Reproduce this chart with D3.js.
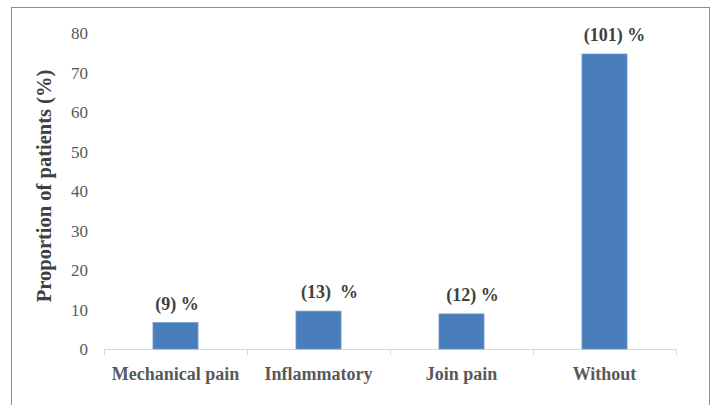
<!DOCTYPE html>
<head>
  <meta charset="utf-8">
  <title>Pain type</title>
  <style>
    body { margin: 0; background: #fff; }
    text { font-family: "Liberation Serif", "Times New Roman", serif; }
  </style>
</head>
<body>
  <div id="chart"></div>
  <script src="https://cdnjs.cloudflare.com/ajax/libs/d3/7.8.5/d3.min.js"></script>
  <script>
    var categories = ["Mechanical pain", "Inflammatory", "Join pain", "Without"];
    var values = [6.7, 9.6, 8.9, 74.8];
    var barLabels = ["(9) %", "(13)\u00a0 %", "(12) %", "(101) %"];
    var yTicks = [0, 10, 20, 30, 40, 50, 60, 70, 80];

    var width = 715, height = 405;
    var margin = { left: 104, right: 39, top: 33.5, bottom: 56 };
    // the labels sit a little right of the bar centres in the original
    var labelNudge = [1.5, 11, 11, 10];

    var svg = d3.select("#chart").append("svg")
      .attr("width", width)
      .attr("height", height);

    // outer frame (bottom edge runs off the picture)
    svg.append("rect")
      .attr("x", 11.5).attr("y", 7.5)
      .attr("width", 698).attr("height", 420)
      .attr("fill", "none")
      .attr("stroke", "#8c8c8c")
      .attr("stroke-width", 1);

    var x = d3.scaleBand()
      .domain(categories)
      .range([margin.left, width - margin.right])
      .paddingInner(0.685)
      .paddingOuter(0.3425);

    var y = d3.scaleLinear()
      .domain([0, 80])
      .range([height - margin.bottom, margin.top]);

    // y tick labels
    var yAxis = svg.append("g")
      .attr("transform", "translate(" + margin.left + ",0)")
      .call(d3.axisLeft(y).tickValues(yTicks).tickSize(0).tickPadding(16));
    yAxis.select(".domain").remove();
    yAxis.selectAll("text")
      .attr("fill", "#595959")
      .style("font-size", "17px")
      .style("font-family", "Liberation Serif, serif");

    // x axis with boundary ticks
    var baseY = y(0);
    svg.append("line")
      .attr("x1", margin.left).attr("x2", width - margin.right)
      .attr("y1", baseY + 0.5).attr("y2", baseY + 0.5)
      .attr("stroke", "#d9d9d9");

    var step = x.step();
    var bounds = categories.map(function(c) { return x(c) - x.paddingOuter() * step; });
    bounds.push(width - margin.right);
    svg.selectAll(".xtick")
      .data(bounds)
      .enter().append("line")
      .attr("class", "xtick")
      .attr("x1", function(d) { return Math.round(d) + 0.5; })
      .attr("x2", function(d) { return Math.round(d) + 0.5; })
      .attr("y1", baseY).attr("y2", baseY + 6)
      .attr("stroke", "#d9d9d9");

    svg.selectAll(".xlabel")
      .data(categories)
      .enter().append("text")
      .attr("class", "xlabel")
      .attr("x", function(d) { return x(d) + x.bandwidth() / 2; })
      .attr("y", 380)
      .attr("text-anchor", "middle")
      .attr("fill", "#595959")
      .style("font-size", "18px")
      .style("font-weight", "bold")
      .text(function(d) { return d; });

    // bars
    svg.selectAll(".bar")
      .data(values)
      .enter().append("rect")
      .attr("class", "bar")
      .attr("x", function(d, i) { return x(categories[i]); })
      .attr("y", function(d) { return y(d); })
      .attr("width", x.bandwidth())
      .attr("height", function(d) { return y(0) - y(d); })
      .attr("fill", "#4a7ebb")
      .attr("stroke", "#6f9bd1")
      .attr("stroke-width", 0.8);

    // value labels
    svg.selectAll(".vlabel")
      .data(values)
      .enter().append("text")
      .attr("class", "vlabel")
      .attr("x", function(d, i) { return x(categories[i]) + x.bandwidth() / 2 + labelNudge[i]; })
      .attr("y", function(d) { return y(d) - 13; })
      .attr("text-anchor", "middle")
      .attr("fill", "#404040")
      .style("font-size", "18px")
      .style("font-weight", "bold")
      .text(function(d, i) { return barLabels[i]; });

    // y axis title
    svg.append("text")
      .attr("transform", "translate(51," + 186 + ") rotate(-90)")
      .attr("text-anchor", "middle")
      .attr("fill", "#404040")
      .style("font-size", "20.5px")
      .style("font-weight", "bold")
      .text("Proportion of patients (%)");
  </script>
</body>
